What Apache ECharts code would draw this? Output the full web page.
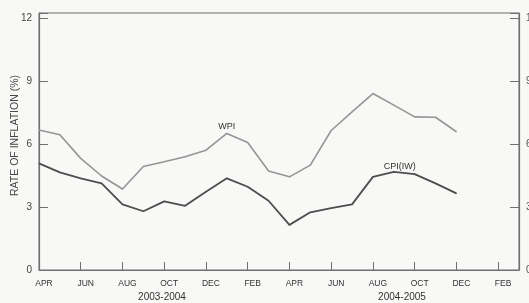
<!DOCTYPE html>
<html>
<head>
<meta charset="utf-8">
<style>
  html, body { margin: 0; padding: 0; background: #f8f8f7; }
  #chart { width: 529px; height: 303px; }
</style>
<script src="https://cdn.jsdelivr.net/npm/echarts@6/dist/echarts.min.js"></script>
</head>
<body>
<div id="chart"></div>
<script>
// months Apr 2003 .. Mar 2005
const months = ['APR', 'MAY', 'JUN', 'JUL', 'AUG', 'SEP', 'OCT', 'NOV', 'DEC', 'JAN', 'FEB', 'MAR',
  'APR', 'MAY', 'JUN', 'JUL', 'AUG', 'SEP', 'OCT', 'NOV', 'DEC', 'JAN', 'FEB', 'MAR'];
const years = ['2003-2004', '2004-2005'];
const yTicks = [0, 3, 6, 9, 12];

// rate of inflation (%)
const wpi = [6.67, 6.45, 5.32, 4.48, 3.86, 4.93, 5.16, 5.4, 5.71, 6.51, 6.08, 4.72,
  4.44, 5.0, 6.65, 7.54, 8.41, 7.86, 7.3, 7.28, 6.59, null, null, null];
const cpi = [5.08, 4.65, 4.37, 4.13, 3.13, 2.8, 3.27, 3.06, 3.73, 4.37, 3.97, 3.3,
  2.15, 2.75, 2.95, 3.13, 4.44, 4.68, 4.57, 4.13, 3.65, null, null, null];

const wpiLabelAt = 9;   // JAN 2004
const cpiLabelAt = 17;  // SEP 2004

const font = 'Liberation Sans, Arial, sans-serif';
const axisColor = '#6f6f6f';

// put the series name above one point of the line
function withLabel(values, idx, text, offset) {
  return values.map((v, i) => i === idx
    ? { value: v, label: { show: true, position: 'top', distance: 2, offset, formatter: text, color: '#333', fontSize: 9, fontFamily: font } }
    : v);
}

const chart = echarts.init(document.getElementById('chart'));

chart.setOption({
  backgroundColor: '#f8f8f7',
  animation: false,
  grid: {
    left: 39, right: 10, top: 13, bottom: 33,
    outerBoundsMode: 'none',
    show: true, borderColor: axisColor, borderWidth: 1, backgroundColor: 'transparent'
  },
  xAxis: [
    {
      type: 'category',
      data: months,
      boundaryGap: false,
      axisLine: { lineStyle: { color: axisColor, width: 1.2 } },
      axisTick: { inside: true, length: 8, lineStyle: { color: axisColor } },
      axisLabel: {
        interval: 1, color: '#333', fontSize: 8.5, fontFamily: font, margin: 9,
        padding: [0, 0, 0, 10]
      },
      splitLine: { show: false }
    },
    {
      type: 'category',
      data: years,
      position: 'bottom',
      boundaryGap: true,
      axisLine: { show: false },
      axisTick: { show: false },
      axisLabel: { color: '#333', fontSize: 10, fontFamily: font, margin: 22, padding: [0, 0, 0, 6] },
      splitLine: { show: false }
    }
  ],
  yAxis: [
    {
      type: 'value',
      min: 0, max: 12.25, interval: 3,
      name: 'RATE OF INFLATION (%)',
      nameLocation: 'middle',
      nameGap: 18,
      nameMoveOverlap: false,
      nameTextStyle: { color: '#444', fontSize: 10.5, fontFamily: font, padding: [0, 0, 0, 12] },
      axisLine: { show: true, lineStyle: { color: axisColor, width: 1.2 } },
      axisTick: { show: true, inside: true, length: 9, lineStyle: { color: axisColor } },
      axisLabel: {
        color: '#444', fontSize: 10, fontFamily: font, margin: 7,
        formatter: v => yTicks.includes(v) ? String(v) : ''
      },
      splitLine: { show: false }
    },
    {
      type: 'value',
      position: 'right',
      min: 0, max: 12.25, interval: 3,
      axisLine: { show: true, lineStyle: { color: axisColor, width: 1.2 } },
      axisTick: { show: true, inside: true, length: 9, lineStyle: { color: axisColor } },
      axisLabel: {
        color: '#555', fontSize: 10, fontFamily: font, margin: 7,
        formatter: v => yTicks.includes(v) ? String(v) : ''
      },
      splitLine: { show: false }
    }
  ],
  series: [
    {
      name: 'WPI',
      type: 'line',
      data: withLabel(wpi, wpiLabelAt, 'WPI', [0, 0]),
      symbol: 'circle',
      symbolSize: 1,
      showSymbol: true,
      itemStyle: { color: '#959595' },
      lineStyle: { color: '#959595', width: 1.6 },
      z: 3
    },
    {
      name: 'CPI(IW)',
      type: 'line',
      data: withLabel(cpi, cpiLabelAt, 'CPI(IW)', [6, 2]),
      symbol: 'circle',
      symbolSize: 1,
      showSymbol: true,
      itemStyle: { color: '#4d4d4d' },
      lineStyle: { color: '#4d4d4d', width: 1.8 },
      z: 4
    }
  ]
});
</script>
</body>
</html>
